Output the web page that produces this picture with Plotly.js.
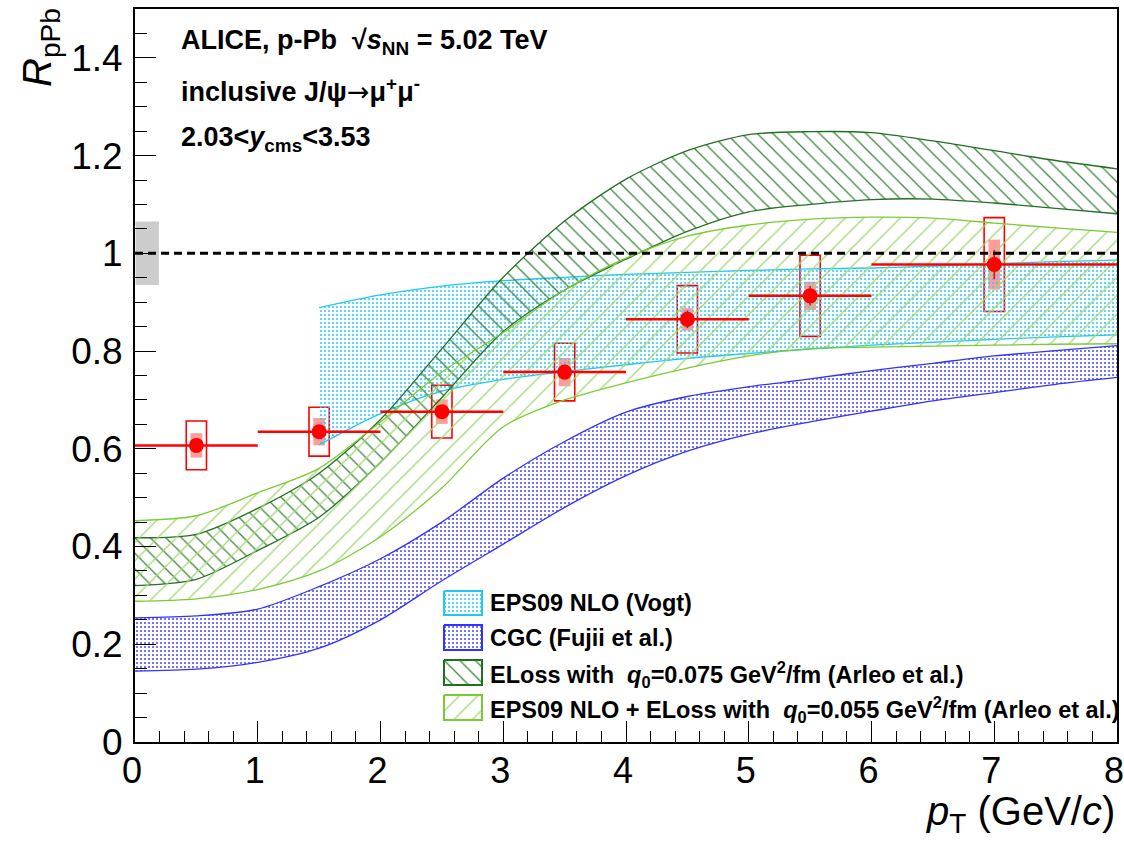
<!DOCTYPE html>
<html><head><meta charset="utf-8">
<script src="https://cdn.plot.ly/plotly-3.0.1.min.js"></script>
<style>html,body{margin:0;padding:0;background:#fff}#chart{width:1124px;height:841px}</style>
</head><body><div id="chart"></div>
<script>
// ---------- model bands ----------
const ptGrid = [0,0.5,1,1.5,2,2.5,3,3.5,4,4.5,5,5.5,6,6.5,7,7.5,8];
const eps09Pt = [1.5,2,2.5,3,3.5,4,4.5,5,5.5,6,6.5,7,7.5,8];
const eps09Low  = [0.608,0.672,0.718,0.742,0.758,0.772,0.785,0.795,0.804,0.812,0.818,0.824,0.829,0.833];
const eps09High = [0.889,0.915,0.933,0.944,0.951,0.957,0.961,0.965,0.968,0.970,0.974,0.979,0.983,0.986];
const cgcLow  = [0.145,0.149,0.163,0.192,0.250,0.330,0.405,0.480,0.545,0.595,0.630,0.655,0.677,0.698,0.715,0.732,0.746];
const cgcHigh = [0.254,0.258,0.272,0.318,0.375,0.450,0.540,0.615,0.675,0.707,0.727,0.743,0.760,0.775,0.790,0.801,0.811];
const elossLow  = [0.320,0.333,0.392,0.460,0.572,0.705,0.840,0.925,0.988,1.045,1.085,1.100,1.110,1.111,1.103,1.092,1.081];
const elossHigh = [0.418,0.425,0.478,0.550,0.660,0.805,0.951,1.066,1.152,1.210,1.243,1.249,1.247,1.230,1.210,1.190,1.173];
const epsElossLow  = [0.288,0.293,0.312,0.350,0.420,0.520,0.645,0.700,0.735,0.765,0.790,0.805,0.808,0.810,0.812,0.814,0.815];
const epsElossHigh = [0.453,0.463,0.510,0.560,0.655,0.757,0.838,0.925,0.990,1.035,1.058,1.070,1.074,1.072,1.062,1.052,1.043];

// ---------- ALICE data ----------
const dataPt    = [0.5,1.5,2.5,3.5,4.5,5.5,7];
const dataPtErr = [0.5,0.5,0.5,0.5,0.5,0.5,1];
const dataR     = [0.607,0.635,0.676,0.757,0.865,0.913,0.977];
const dataStat  = [0.012,0.012,0.013,0.015,0.018,0.020,0.030];
const dataSystUncorr = [0.050,0.050,0.054,0.059,0.069,0.083,0.096];
const dataSystCorr   = [0.025,0.028,0.025,0.029,0.023,0.029,0.051];
const globalUnc = 0.065;

const FONT = 'Liberation Sans, Arial, Helvetica, sans-serif';

function band(x, lo, hi, lineColor, pat, name) {
  return [
    {x:x, y:lo, type:'scatter', mode:'lines', line:{color:lineColor, width:1.3, shape:'spline', smoothing:0.8},
     showlegend:false, hoverinfo:'skip', name:name+' low'},
    {x:x, y:hi, type:'scatter', mode:'lines', fill:'tonexty', fillcolor:'rgba(0,0,0,0)',
     fillpattern:pat, line:{color:lineColor, width:1.3, shape:'spline', smoothing:0.8},
     showlegend:false, hoverinfo:'skip', name:name}
  ];
}

const patCyan  = {shape:'.', fgcolor:'#33ccff', bgcolor:'rgba(0,0,0,0)', size:4, solidity:0.22};
const patBlue  = {shape:'.', fgcolor:'#4444ff', bgcolor:'rgba(0,0,0,0)', size:4, solidity:0.2};
const patDark  = {shape:'\\', fgcolor:'#3f873f', bgcolor:'rgba(0,0,0,0)', size:11, solidity:0.12};
const patLight = {shape:'/', fgcolor:'#9fd870', bgcolor:'rgba(0,0,0,0)', size:13, solidity:0.1};
const colCyan='#22c8f5', colBlue='#3333ff', colDark='#236f23', colLight='#7acc33';

let traces = [];
// global uncertainty box and systematic boxes (bars)
traces.push({type:'bar', x:[0.1], y:[2*globalUnc], base:[1-globalUnc], width:0.19,
  marker:{color:'#cccccc', line:{width:0}}, showlegend:false, hoverinfo:'skip'});
traces.push({type:'bar', x:dataPt, y:dataSystCorr.map(v=>2*v), base:dataR.map((v,i)=>v-dataSystCorr[i]),
  width:0.095, marker:{color:'#ff9c9c', line:{width:0}}, showlegend:false, hoverinfo:'skip'});
traces.push({type:'bar', x:dataPt, y:dataSystUncorr.map(v=>2*v), base:dataR.map((v,i)=>v-dataSystUncorr[i]),
  width:0.165, marker:{color:'rgba(0,0,0,0)', line:{width:1.6, color:'#ff0000'}}, showlegend:false, hoverinfo:'skip'});

traces = traces.concat(band(eps09Pt, eps09Low, eps09High, colCyan, patCyan, 'EPS09 NLO (Vogt)'));
traces = traces.concat(band(ptGrid, cgcLow, cgcHigh, colBlue, patBlue, 'CGC (Fujii et al.)'));
traces = traces.concat(band(ptGrid, elossLow, elossHigh, colDark, patDark, 'ELoss'));
traces = traces.concat(band(ptGrid, epsElossLow, epsElossHigh, colLight, patLight, 'EPS09 NLO + ELoss'));

traces.push({type:'scatter', mode:'markers', x:dataPt, y:dataR,
  marker:{color:'#ff0000', size:15, symbol:'circle'},
  error_x:{type:'data', array:dataPtErr, color:'#ff0000', thickness:2.5, width:0},
  error_y:{type:'data', array:dataStat, color:'#ff0000', thickness:1.5, width:0},
  showlegend:false, hoverinfo:'skip', name:'ALICE'});

// legend swatches on a pixel-like overlay axis
const legendRows = [
  {y0:591, y1:615, line:colCyan, pat:patCyan},
  {y0:625, y1:650, line:colBlue, pat:patBlue},
  {y0:660, y1:685, line:'#1f6f1f', pat:patDark},
  {y0:695, y1:720, line:colLight, pat:patLight}
];
legendRows.forEach(r=>{
  traces.push({type:'scatter', mode:'lines', xaxis:'x2', yaxis:'y2',
    x:[444,482,482,444,444], y:[r.y0,r.y0,r.y1,r.y1,r.y0], fill:'toself', fillcolor:'rgba(0,0,0,0)',
    fillpattern:r.pat, line:{color:r.line, width:2}, showlegend:false, hoverinfo:'skip'});
});

const legendTexts = [
  '<b>EPS09 NLO (Vogt)</b>',
  '<b>CGC (Fujii et al.)</b>',
  '<b>ELoss with  <i>q</i><sub>0</sub>=0.075 GeV<sup>2</sup>/fm (Arleo et al.)</b>',
  '<b>EPS09 NLO + ELoss with  <i>q</i><sub>0</sub>=0.055 GeV<sup>2</sup>/fm (Arleo et al.)</b>'
];
const legendY = [603, 637.5, 674, 709];

const annotations = [];
legendTexts.forEach((t,i)=>{
  annotations.push({xref:'x2', yref:'y2', x:488, y:legendY[i], xanchor:'left', yanchor:'middle',
    text:t, showarrow:false, font:{family:FONT, size:23.5, color:'#000'}});
});
annotations.push({xref:'x2', yref:'y2', x:179, y:42, xanchor:'left', yanchor:'middle', showarrow:false,
  text:'<b>ALICE, p-Pb  √<i>s</i><sub>NN</sub> = 5.02 TeV</b>', font:{family:FONT, size:27, color:'#000'}});
annotations.push({xref:'x2', yref:'y2', x:179, y:90, xanchor:'left', yanchor:'middle', showarrow:false,
  text:'<b>inclusive J/ψ<span style="font-family:DejaVu Sans;font-weight:normal">→</span>μ<sup>+</sup>μ<sup>-</sup></b>',
  font:{family:FONT, size:27, color:'#000'}});
annotations.push({xref:'x2', yref:'y2', x:179, y:139, xanchor:'left', yanchor:'middle', showarrow:false,
  text:'<b>2.03&lt;<i>y</i><sub>cms</sub>&lt;3.53</b>', font:{family:FONT, size:27, color:'#000'}});
// axis titles (paper coordinates)
annotations.push({xref:'paper', yref:'paper', x:-0.0967, y:0.947, xanchor:'center', yanchor:'middle', showarrow:false, textangle:-90,
  text:'<i>R</i><sub>pPb</sub>', font:{family:FONT, size:40, color:'#000'}});
annotations.push({xref:'paper', yref:'paper', x:1, y:-0.098, xanchor:'right', yanchor:'middle', showarrow:false,
  text:'<i>p</i><sub>T</sub> (GeV/<i>c</i>)', font:{family:FONT, size:40, color:'#000'}});

const layout = {
  width:1124, height:841, margin:{l:135, r:7, t:9, b:99},
  paper_bgcolor:'#fff', plot_bgcolor:'#fff', barmode:'overlay', showlegend:false,
  font:{family:FONT, color:'#000'},
  xaxis:{range:[0,8], tick0:0, dtick:1, ticks:'inside', ticklen:21, tickwidth:1, tickcolor:'#000',
    minor:{dtick:0.2, tick0:0, ticks:'inside', ticklen:11, tickwidth:1, tickcolor:'#000', showgrid:false},
    showline:true, linecolor:'#000', linewidth:2, mirror:true, showgrid:false, zeroline:false,
    ticklabeloverflow:'allow', ticklabelstandoff:-4, ticklabelshift:-3,
    tickfont:{family:FONT, size:36, color:'#000'}},
  yaxis:{range:[0,1.5], tick0:0, dtick:0.2, ticks:'inside', ticklen:21, tickwidth:1, tickcolor:'#000',
    minor:{dtick:0.05, tick0:0, ticks:'inside', ticklen:12, tickwidth:1, tickcolor:'#000', showgrid:false},
    showline:true, linecolor:'#000', linewidth:2, mirror:true, showgrid:false, zeroline:false,
    ticklabeloverflow:'allow', ticklabelstandoff:3,
    tickfont:{family:FONT, size:37, color:'#000'}},
  xaxis2:{overlaying:'x', range:[135,1117], visible:false, fixedrange:true},
  yaxis2:{overlaying:'y', range:[742,9], visible:false, fixedrange:true},
  shapes:[{type:'line', xref:'x', yref:'y', x0:0, x1:8, y0:1, y1:1,
    line:{color:'#000', width:3, dash:'8px,5px'}}],
  annotations:annotations
};

Plotly.newPlot('chart', traces, layout, {displayModeBar:false, staticPlot:true});
</script>
</body></html>
